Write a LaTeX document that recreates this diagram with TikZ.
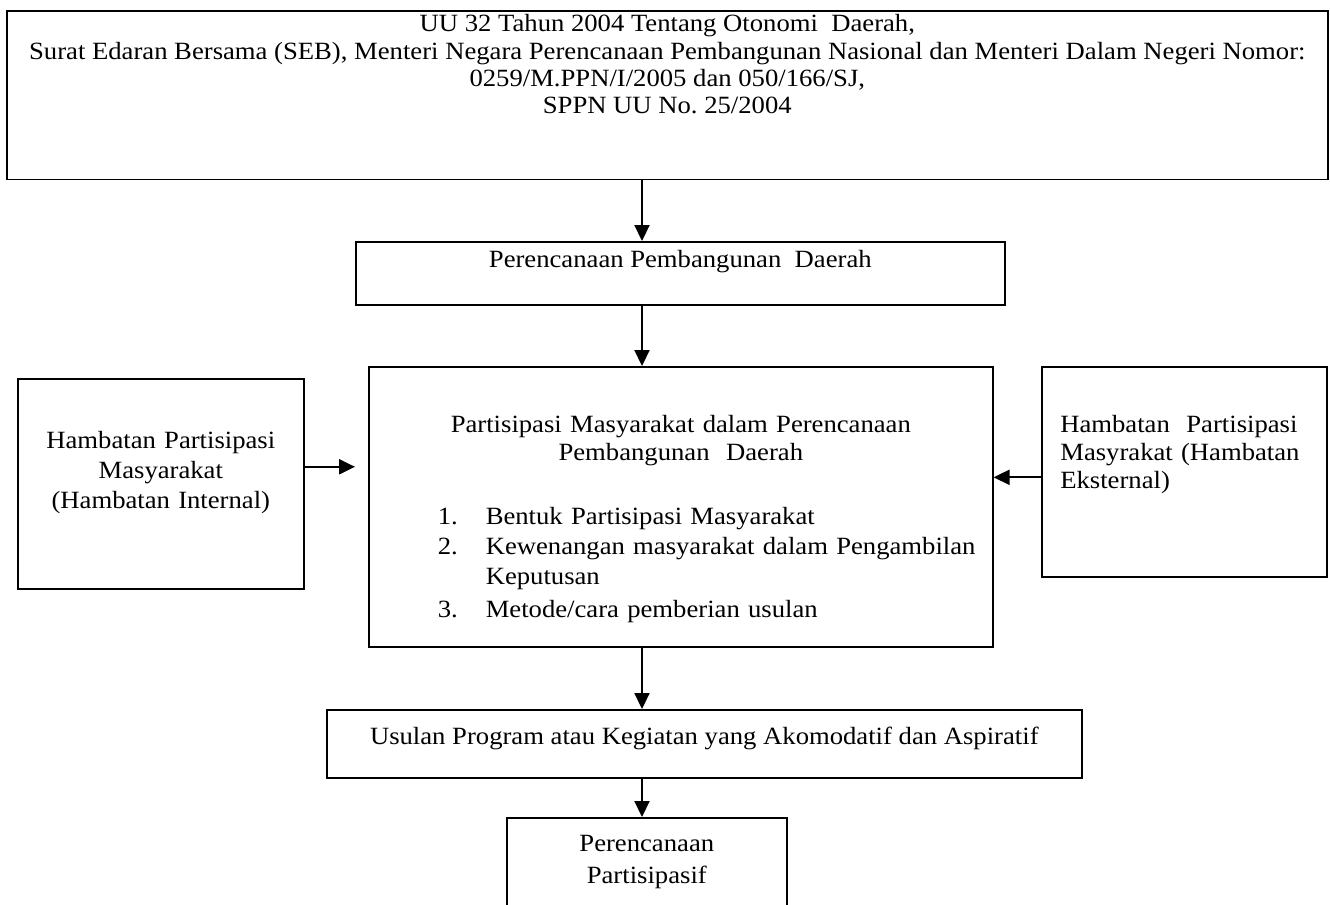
\documentclass[tikz,border=0pt]{standalone}
\usepackage{fontspec}
\setmainfont{Liberation Serif}[FakeStretch=1.075]
\usetikzlibrary{arrows.meta}
\frenchspacing

\newcommand{\butir}[2]{\hangindent=24pt\hangafter=1\noindent\makebox[24pt][l]{#1}#2\par}

\begin{document}
\begin{tikzpicture}[
    x=0.5pt, y=-0.5pt,
    box/.style={rectangle, draw, line width=0.8pt, inner sep=0pt, align=center, font=\fontsize{12.4}{14}\selectfont},
    arrow/.style={-{Triangle[length=8pt,width=7.5pt]}, line width=1.1pt}
]
    \useasboundingbox (0,0) rectangle (1330,905);
    \coordinate (poros) at (642,0);

    % Dasar hukum
    \node[box, anchor=north west, minimum width=660.5pt, font=\fontsize{12.4}{13.6}\selectfont] (dasar) at (6,10)
        {\rule{0pt}{10.5pt}UU 32 Tahun 2004 Tentang Otonomi\ \ Daerah,\\
         Surat Edaran Bersama (SEB), Menteri Negara Perencanaan Pembangunan Nasional dan Menteri Dalam Negeri Nomor:\\
         0259/M.PPN/I/2005 dan 050/166/SJ,\\
         SPPN UU No. 25/2004\rule[-33pt]{0pt}{33pt}};

    \node[box, anchor=north west, minimum width=324.5pt, text height=13pt, text depth=18.5pt] (perencanaan) at (355,241)
        {Perencanaan Pembangunan\ \ Daerah};

    % Partisipasi masyarakat
    \node[box, anchor=north west, minimum width=312pt, text width=300pt, align=left] (partisipasi) at (368,366)
        {\parindent=0pt
         {\centering\rule{0pt}{33pt}Partisipasi Masyarakat dalam Perencanaan\\ Pembangunan\ \ Daerah\par}
         \vspace{17pt}
         \raggedright\leftskip=28.5pt\baselineskip=15pt
         \butir{1.}{Bentuk Partisipasi Masyarakat}
         \butir{2.}{Kewenangan masyarakat dalam Pengambilan\newline Keputusan}
         \vspace{1.5pt}
         \butir{3.}{Metode/cara pemberian usulan\rule[-14.5pt]{0pt}{14.5pt}}};

    % Hambatan
    \node[box, anchor=north west, minimum width=143pt, text width=135pt] (internal) at (17,378)
        {\rule{0pt}{35pt}Hambatan Partisipasi\\[1pt] Masyarakat\\[1pt] (Hambatan Internal)\rule[-40pt]{0pt}{40pt}};
    \node[box, anchor=north west, minimum width=142.5pt, text width=124pt, align=left] (eksternal) at (1041,366)
        {\rule{0pt}{33pt}Hambatan\ \ Partisipasi\\ Masyrakat (Hambatan\\ Eksternal)\rule[-44pt]{0pt}{44pt}};

    % Hasil
    \node[box, anchor=north west, minimum width=377.5pt, text height=17.5pt, text depth=16.5pt] (usulan) at (326,709)
        {Usulan Program atau Kegiatan yang Akomodatif dan Aspiratif};
    \node[box, anchor=north west, minimum width=140pt, text width=130pt] (hasil) at (506,817)
        {\rule{0pt}{17pt}Perencanaan\\[2pt] Partisipasif\rule[-30pt]{0pt}{30pt}};

    \draw[arrow] (dasar.south -| poros) -- (perencanaan.north -| poros);
    \draw[arrow] (perencanaan.south -| poros) -- (partisipasi.north -| poros);
    \draw[arrow, shorten >=6.5pt] ([yshift=8.5pt]internal.east) -- ([yshift=8.5pt]internal.east -| partisipasi.west);
    \draw[arrow] ([yshift=-2.75pt]eksternal.west) -- ([yshift=-2.75pt]eksternal.west -| partisipasi.east);
    \draw[arrow] (partisipasi.south -| poros) -- (usulan.north -| poros);
    \draw[arrow] (usulan.south -| poros) -- (hasil.north -| poros);
\end{tikzpicture}
\end{document}
